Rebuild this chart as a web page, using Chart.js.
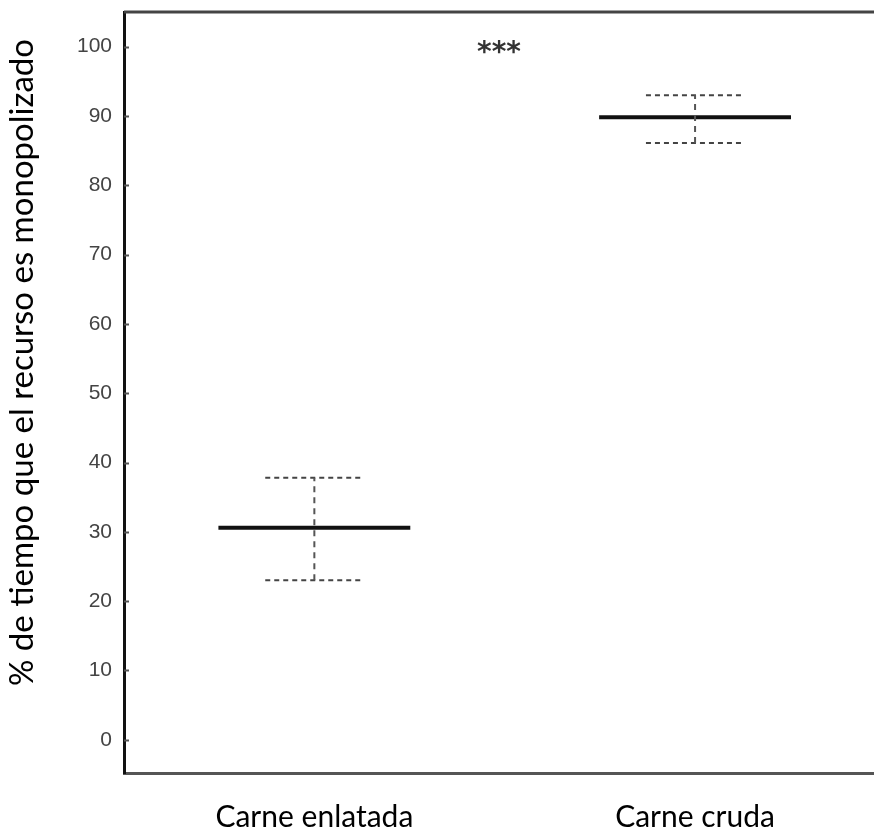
<!DOCTYPE html>
<html>
<head>
<meta charset="utf-8">
<script src="https://cdn.jsdelivr.net/npm/chart.js@4/dist/chart.umd.min.js"></script>
<style>
  html, body { margin: 0; padding: 0; background: #fff; }
  #wrap { width: 874px; height: 830px; }
</style>
</head>
<body>
<div id="wrap"><canvas id="chart"></canvas></div>
<script>
// data
const categories = ['Carne enlatada', 'Carne cruda'];
const means = [30.6, 89.8];
const upper = [37.8, 93.0];
const lower = [23.0, 86.1];
const yTicks = [0, 10, 20, 30, 40, 50, 60, 70, 80, 90, 100];
const yTitle = '% de tiempo que el recurso es monopolizado';
const sigText = '***';
const sigValue = 100;

// half widths of the marks, in x units (one category = 1 unit)
const meanHalf = 0.252;
const capHalf = 0.129;

const datasets = [];
categories.forEach(function (c, i) {
    const cx = i + 0.5;
    // vertical dashed whisker
    datasets.push({
        data: [{x: cx, y: lower[i]}, {x: cx, y: upper[i]}],
        borderColor: '#555', borderWidth: 2, borderDash: [6, 5]
    });
    // caps
    [upper[i], lower[i]].forEach(function (v) {
        datasets.push({
            data: [{x: cx - capHalf, y: v}, {x: cx + capHalf, y: v}],
            borderColor: '#444', borderWidth: 2, borderDash: [5, 4]
        });
    });
    // mean line
    datasets.push({
        data: [{x: cx - meanHalf, y: means[i]}, {x: cx + meanHalf, y: means[i]}],
        borderColor: '#111', borderWidth: 4
    });
});
datasets.forEach(function (d) {
    d.showLine = true;
    d.pointRadius = 0;
    d.pointHoverRadius = 0;
});

const frame = {
    id: 'frame',
    afterDatasetsDraw: function (chart) {
        const ctx = chart.ctx;
        const a = chart.chartArea;
        const y = chart.scales.y;
        const x = chart.scales.x;
        ctx.save();
        // top border
        ctx.strokeStyle = '#444';
        ctx.lineWidth = 3;
        ctx.beginPath();
        ctx.moveTo(a.left, a.top);
        ctx.lineTo(a.right, a.top);
        ctx.stroke();
        // small inside tick marks
        ctx.strokeStyle = '#555';
        ctx.lineWidth = 2;
        yTicks.forEach(function (t) {
            const py = Math.round(y.getPixelForValue(t)) + 0.5;
            ctx.beginPath();
            ctx.moveTo(a.left, py);
            ctx.lineTo(a.left + 5, py);
            ctx.stroke();
        });
        // significance stars
        ctx.fillStyle = '#333';
        ctx.font = 'bold 28px "DejaVu Sans"';
        ctx.textAlign = 'center';
        ctx.textBaseline = 'middle';
        ctx.fillText(sigText, x.getPixelForValue(0.985), y.getPixelForValue(sigValue) + 7);
        // y axis title, sitting a little above the middle as in the original
        ctx.fillStyle = '#000';
        ctx.font = '33px Lato';
        ctx.textBaseline = 'alphabetic';
        ctx.translate(33, (a.top + a.bottom) / 2 - 30);
        ctx.rotate(-Math.PI / 2);
        ctx.fillText(yTitle, 0, 0);
        ctx.restore();
    }
};

new Chart(document.getElementById('chart'), {
    type: 'scatter',
    data: { datasets: datasets },
    options: {
        responsive: true,
        maintainAspectRatio: false,
        animation: false,
        layout: { padding: { top: 12, right: 0, left: 0, bottom: 0 } },
        plugins: { legend: { display: false }, tooltip: { enabled: false } },
        scales: {
            x: {
                type: 'linear',
                min: 0,
                max: 1.97,
                afterBuildTicks: function (scale) {
                    scale.ticks = categories.map(function (c, i) { return {value: i + 0.5}; });
                },
                afterFit: function (scale) {
                    scale.height = 57;
                    scale.paddingLeft = 0;
                    scale.paddingRight = 0;
                },
                grid: { display: false, drawTicks: false },
                border: { color: '#555', width: 3 },
                ticks: {
                    autoSkip: false,
                    maxRotation: 0,
                    padding: 26,
                    color: '#000',
                    font: { family: 'Lato', size: 30 },
                    callback: function (v) { return categories[Math.round(v - 0.5)]; }
                }
            },
            y: {
                min: -4.8,
                max: 105,
                afterBuildTicks: function (scale) {
                    scale.ticks = yTicks.map(function (v) { return {value: v}; });
                },
                afterFit: function (scale) {
                    scale.width = 124;
                    scale.paddingTop = 0;
                    scale.paddingBottom = 0;
                },
                grid: { display: false, drawTicks: false },
                border: { color: '#111', width: 3 },
                ticks: {
                    padding: 12,
                    color: '#444',
                    font: { family: 'Liberation Sans', size: 21 }
                }
            }
        }
    },
    plugins: [frame]
});
</script>
</body>
</html>
